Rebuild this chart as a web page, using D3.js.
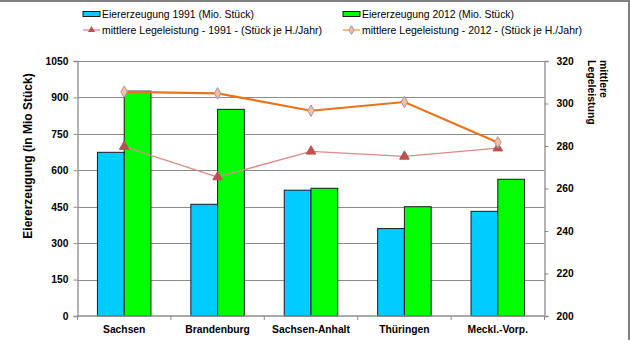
<!DOCTYPE html>
<html><head><meta charset="utf-8">
<script src="https://cdn.jsdelivr.net/npm/d3@7"></script>
<style>body{margin:0;background:#fff}svg{display:block;font-family:"Liberation Sans",Arial,sans-serif}</style>
</head><body><svg id="c" width="630" height="351"></svg>
<script>
const categories = ["Sachsen","Brandenburg","Sachsen-Anhalt","Thüringen","Meckl.-Vorp."];
const eggs1991 = [674, 460, 518, 360, 431];
const eggs2012 = [926, 851, 526, 450, 563];
const lay1991 = [279.7, 265.4, 277.5, 275.1, 279];
const lay2012 = [305.5, 304.8, 296.6, 300.7, 281.7];
const leftTicks = [0,150,300,450,600,750,900,1050];
const rightTicks = [200,220,240,260,280,300,320];
const legendLabels = ["Eiererzeugung 1991 (Mio.  Stück)","Eiererzeugung 2012 (Mio.  Stück)","mittlere Legeleistung  - 1991 - (Stück je H./Jahr)","mittlere Legeleistung  - 2012 - (Stück je H./Jahr)"];

const svg = d3.select("#c");
const L=77.5,R=544.5,T=61,B=316;
const x = d3.scaleBand().domain(categories).range([L,R]);
const yL = d3.scaleLinear().domain([0,1050]).range([B,T]);
const yR = d3.scaleLinear().domain([200,320]).range([B,T]);
const xs = d3.scaleBand().domain(["a","b"]).range([0,x.bandwidth()]).paddingOuter(0.745).paddingInner(0);

// frame
svg.append("line").attr("x1",0).attr("x2",630).attr("y1",1).attr("y2",1).attr("stroke","#808080").attr("stroke-width",2);
svg.append("line").attr("x1",629).attr("x2",629).attr("y1",0).attr("y2",340).attr("stroke","#808080").attr("stroke-width",2);

// grid
svg.append("g").selectAll("line").data(leftTicks.slice(1)).join("line")
 .attr("x1",L).attr("x2",R).attr("y1",d=>Math.round(yL(d))+0.5).attr("y2",d=>Math.round(yL(d))+0.5)
 .attr("stroke","#8c8c8c").attr("stroke-width",1);

// bars
const g = svg.append("g");
categories.forEach((c,i)=>{
  g.append("rect").attr("x",x(c)+xs("a")).attr("y",yL(eggs1991[i])).attr("width",xs.bandwidth()).attr("height",B-yL(eggs1991[i]))
   .attr("fill","#00CCFF").attr("stroke","#1a1a1a").attr("stroke-width",1);
  g.append("rect").attr("x",x(c)+xs("b")).attr("y",yL(eggs2012[i])).attr("width",xs.bandwidth()).attr("height",B-yL(eggs2012[i]))
   .attr("fill","#00FF00").attr("stroke","#1a1a1a").attr("stroke-width",1);
});

// axes
const axL = svg.append("g").attr("transform",`translate(${L},0)`).call(d3.axisLeft(yL).tickValues(leftTicks).tickFormat(d3.format("d")).tickSize(4).tickPadding(5));
const axR = svg.append("g").attr("transform",`translate(${R},0)`).call(d3.axisRight(yR).tickValues(rightTicks).tickFormat(d3.format("d")).tickSize(4).tickPadding(8));
const axB = svg.append("g").attr("transform",`translate(0,${B})`).call(d3.axisBottom(x).tickSize(0).tickPadding(10));
[axL,axR,axB].forEach(a=>{a.select(".domain").attr("stroke","#8c8c8c").attr("stroke-width",1.3);a.selectAll(".tick line").attr("stroke","#8c8c8c");
  a.selectAll("text").attr("font-family","Liberation Sans, Arial, sans-serif").attr("font-size",10.3).attr("font-weight","bold").attr("fill","#000");});
axB.select(".domain").attr("d",`M${L},0H${R}`);
// category boundary ticks
svg.append("g").selectAll("line").data(d3.range(categories.length+1)).join("line")
 .attr("x1",i=>L+i*x.step()).attr("x2",i=>L+i*x.step()).attr("y1",B).attr("y2",B+4).attr("stroke","#8c8c8c");

// lines
const line = d3.line().x((d,i)=>x(categories[i])+x.bandwidth()/2);
svg.append("path").datum(lay1991).attr("d",line.y(d=>yR(d))).attr("fill","none").attr("stroke","#D98A88").attr("stroke-width",1.3);
svg.append("path").datum(lay2012).attr("d",line.y(d=>yR(d))).attr("fill","none").attr("stroke","#E8731A").attr("stroke-width",2.2);
const tri = d3.symbol().type(d3.symbolTriangle).size(40);
const dia = d3.symbol().type(d3.symbolDiamond).size(38);
svg.append("g").selectAll("path").data(lay1991).join("path").attr("d",tri)
 .attr("transform",(d,i)=>`translate(${x(categories[i])+x.bandwidth()/2},${yR(d)})`).attr("fill","#C0504D").attr("stroke","#C0504D");
svg.append("g").selectAll("path").data(lay2012).join("path").attr("d",dia)
 .attr("transform",(d,i)=>`translate(${x(categories[i])+x.bandwidth()/2},${yR(d)})`).attr("fill","#F9C090").attr("stroke","#9C8FCB").attr("stroke-width",1);

// titles
svg.append("text").attr("transform","translate(32,156) rotate(-90)").attr("text-anchor","middle")
 .attr("font-size",12).attr("font-weight","bold").text("Eiererzeugung  (in Mio Stück)");
const rt = svg.append("text").attr("transform","translate(600,60) rotate(90)").attr("font-size",10.5).attr("font-weight","bold");
rt.append("tspan").attr("x",0).attr("dy",0).text("mittlere");
rt.append("tspan").attr("x",0).attr("dy",12.5).text("Legeleistung");

// legend
const lg = svg.append("g").attr("font-size",11);
const lx=[83,343], ly=[14,30];
const tw=[152,152,220,220];
[0,1].forEach(k=>{
  lg.append("rect").attr("x",lx[k]).attr("y",ly[0]-2.5).attr("width",17).attr("height",5)
   .attr("fill",k?"#00FF00":"#00CCFF").attr("stroke","#1a1a1a").attr("stroke-width",1);
  lg.append("text").attr("x",lx[k]+19).attr("y",ly[0]+4).attr("textLength",tw[k]).attr("lengthAdjust","spacingAndGlyphs").text(legendLabels[k]);
});
lg.append("line").attr("x1",lx[0]).attr("x2",lx[0]+17).attr("y1",ly[1]).attr("y2",ly[1]).attr("stroke","#D98A88").attr("stroke-width",1.3);
lg.append("path").attr("d",d3.symbol().type(d3.symbolTriangle).size(22)).attr("transform",`translate(${lx[0]+8.5},${ly[1]})`).attr("fill","#C0504D");
lg.append("text").attr("x",lx[0]+19).attr("y",ly[1]+4).attr("textLength",tw[2]).attr("lengthAdjust","spacingAndGlyphs").text(legendLabels[2]);
lg.append("line").attr("x1",lx[1]).attr("x2",lx[1]+17).attr("y1",ly[1]).attr("y2",ly[1]).attr("stroke","#F5B888").attr("stroke-width",2);
lg.append("path").attr("d",d3.symbol().type(d3.symbolDiamond).size(22)).attr("transform",`translate(${lx[1]+8.5},${ly[1]})`).attr("fill","#F9C090").attr("stroke","#9C8FCB");
lg.append("text").attr("x",lx[1]+19).attr("y",ly[1]+4).attr("textLength",tw[3]).attr("lengthAdjust","spacingAndGlyphs").text(legendLabels[3]);
</script></body></html>
